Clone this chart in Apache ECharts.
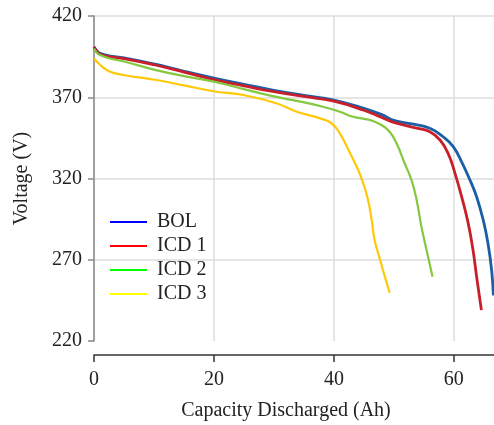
<!DOCTYPE html>
<html>
<head>
<meta charset="utf-8">
<script src="https://cdn.jsdelivr.net/npm/echarts@6/dist/echarts.min.js"></script>
<style>
  html, body { margin: 0; padding: 0; background: #fff; }
  #chart { width: 494px; height: 425px; }
</style>
</head>
<body>
<div id="chart"></div>
<script>
// Pack voltage vs. capacity discharged, per test point
const seriesNames = ['BOL', 'ICD 1', 'ICD 2', 'ICD 3'];

const bolCapacity = [0, 0.5, 1, 2.5, 5, 10, 15, 20, 25, 30, 35, 40, 45, 48, 50, 53, 56, 58.2, 59.9, 61.3, 62.7, 63.8, 64.9, 65.7, 66.3, 66.6];
const bolVoltage  = [401, 398.5, 397, 395.5, 394.3, 390.5, 386, 381.8, 378, 374.3, 371.2, 368.3, 363.2, 359.3, 355.8, 353.6, 350.9, 345.7, 339.6, 330.3, 319, 308.8, 294.5, 280, 263.7, 248];

const icd1Capacity = [0, 0.5, 1, 2.5, 5, 10, 15, 20, 25, 30, 35, 40, 45, 48, 50, 53.8, 56, 57.7, 59.05, 60.2, 61.3, 62.4, 63.2, 63.8, 64.6];
const icd1Voltage  = [401, 398, 396.5, 395, 393.8, 390, 385.5, 380.8, 377, 373.4, 370.5, 367.6, 362, 357.5, 354.5, 351, 348.8, 343.7, 335.5, 323.2, 308.8, 292.4, 276, 259.6, 239];

const icd2Capacity = [0, 0.5, 1, 2.5, 5, 10, 15, 20, 25, 30, 34, 37.7, 41, 43.2, 46, 47.95, 49.3, 50.45, 51.8, 52.95, 53.8, 54.6, 55.45, 56.45];
const icd2Voltage  = [400, 397.3, 396, 394, 392, 387, 383, 379.6, 375, 370.5, 367.6, 364.6, 361.1, 358, 356, 352.9, 348.8, 341.7, 329.4, 319, 306.8, 290.3, 276, 259.6];

const icd3Capacity = [0, 1, 2.5, 4.9, 10.4, 15, 20.4, 24.9, 30.4, 33.8, 37.7, 39.6, 41, 42.7, 44.05, 44.9, 45.7, 46.3, 46.8, 47.7, 48.5, 49.3];
const icd3Voltage  = [394, 390, 386, 383.7, 380.6, 377.3, 373.4, 371.4, 366.3, 361.1, 357, 354, 347.8, 335.5, 325.2, 317, 306.8, 294.5, 282, 270, 259.6, 249.7];

const xTicks = [0, 20, 40, 60];
const yTicks = [220, 270, 320, 370, 420];

const lineColors   = ['#1a5fa6', '#c8202a', '#84c83f', '#ffc908'];
const legendColors = ['#0000ff', '#ff0000', '#00ff00', '#ffff00'];
const lineWidths   = [2.8, 2.8, 2.2, 2.2];

const pairs = [
  [bolCapacity, bolVoltage],
  [icd1Capacity, icd1Voltage],
  [icd2Capacity, icd2Voltage],
  [icd3Capacity, icd3Voltage]
];

const font = 'Liberation Serif, Times New Roman, serif';
const chart = echarts.init(document.getElementById('chart'), null, { renderer: 'canvas' });

chart.setOption({
  animation: false,
  backgroundColor: '#ffffff',
  grid: { left: 94, top: 16, right: 0, bottom: 84, containLabel: false, outerBoundsMode: 'none' },
  xAxis: {
    type: 'value',
    min: 0,
    max: 66.7,
    interval: 20,
    offset: 14,
    name: 'Capacity Discharged (Ah)',
    nameLocation: 'middle',
    nameGap: 46,
    nameTextStyle: { fontFamily: font, fontSize: 20, color: '#222', padding: [0, 16, 0, 0] },
    axisLine: { show: true, lineStyle: { color: '#333', width: 1.5 } },
    axisTick: { show: true, length: 7, lineStyle: { color: '#333', width: 1.5 },
      customValues: xTicks },
    axisLabel: { fontFamily: font, fontSize: 20, color: '#222', margin: 15,
      customValues: xTicks },
    splitLine: { show: true, lineStyle: { color: '#dddddd', width: 1.5 } }
  },
  yAxis: {
    type: 'value',
    min: 220,
    max: 420,
    interval: 50,
    name: 'Voltage (V)',
    nameLocation: 'middle',
    nameGap: 62,
    nameTextStyle: { fontFamily: font, fontSize: 20, color: '#222' },
    axisLine: { show: true, lineStyle: { color: '#888', width: 1.5 } },
    axisTick: { show: true, length: 6, lineStyle: { color: '#888', width: 1.5 } },
    axisLabel: { fontFamily: font, fontSize: 20, color: '#222', margin: 12,
      customValues: yTicks },
    splitLine: { show: true, showMinLine: false, lineStyle: { color: '#dddddd', width: 1.5 } }
  },
  legend: {
    orient: 'vertical',
    left: 110,
    top: 212,
    padding: 0,
    itemWidth: 37,
    itemHeight: 12,
    itemGap: 4,
    textStyle: { fontFamily: font, fontSize: 20, lineHeight: 20, color: '#222', padding: [0, 0, 0, 5] },
    data: seriesNames.map((n, i) => ({
      name: n,
      icon: 'path://M0,0 L36,0 L36,2 L0,2 Z',
      itemStyle: { color: legendColors[i] }
    }))
  },
  series: seriesNames.map((n, i) => ({
    name: n,
    type: 'line',
    symbol: 'none',
    smooth: 0.45,
    clip: true,
    color: lineColors[i],
    lineStyle: { color: lineColors[i], width: lineWidths[i] },
    data: pairs[i][0].map((c, j) => [c, pairs[i][1][j]])
  }))
});
</script>
</body>
</html>
